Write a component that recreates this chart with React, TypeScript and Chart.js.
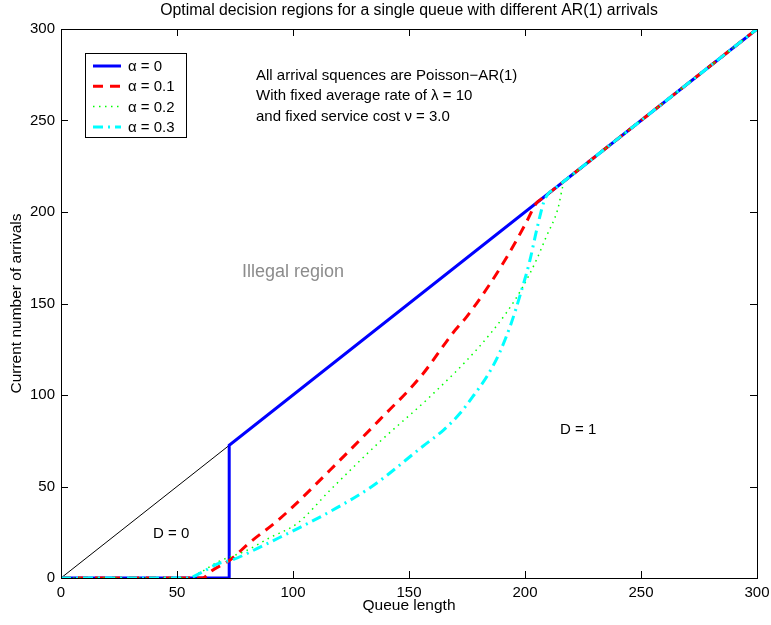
import React, { useEffect, useRef } from "react";
import { Chart, registerables } from "chart.js";

Chart.register(...registerables);

// ---- Data ----
const tickValues = [0, 50, 100, 150, 200, 250, 300];

const diagX = [0, 300];
const diagY = [0, 300];

const alpha0X = [0, 72.5, 72.5, 300];
const alpha0Y = [0, 0, 72.5, 300];

const alpha1X = [0, 61, 65, 73, 81, 93, 100, 116, 137, 155, 169, 175, 184, 192, 200, 205, 207, 209, 300];
const alpha1Y = [0, 0, 4, 10, 19, 31, 39, 59, 86, 110, 134, 143, 159, 175, 193, 205, 207, 209, 300];

const alpha2X = [0, 55, 60, 68, 80, 90, 102, 116, 137, 159, 180, 192, 199, 205, 209, 214, 217, 219, 221, 300];
const alpha2Y = [0, 0, 3, 9, 15, 22, 30, 48, 74, 99, 126, 145, 159, 174, 186, 201, 217, 219, 221, 300];

const alpha3X = [0, 55, 59, 68, 74, 86, 94, 102, 117, 134, 156, 165, 172, 178, 184, 189, 194, 198, 202, 205, 208, 210, 212, 214, 300];
const alpha3Y = [0, 0, 2, 8, 10, 17, 22, 27, 37, 50, 72, 81, 90, 100, 111, 123, 139, 155, 173, 190, 205, 210, 212, 214, 300];

const legendLabels = ["\u03b1 = 0", "\u03b1 = 0.1", "\u03b1 = 0.2", "\u03b1 = 0.3"];
const noteLines = [
  "All arrival squences are Poisson\u2212AR(1)",
  "With fixed average rate of \u03bb = 10",
  "and fixed service cost \u03bd = 3.0",
];
const titleText = "Optimal decision regions for a single queue with different AR(1) arrivals";
const xTitle = "Queue length";
const yTitle = "Current number of arrivals";

const FONT = '"Liberation Sans", Arial, Helvetica, sans-serif';

const zip = (xs: number[], ys: number[]) => xs.map((x, i) => ({ x, y: ys[i] }));

const styles = [
  { color: "#0000ff", width: 3, dash: [] as number[] },
  { color: "#ff0000", width: 3, dash: [10, 7] },
  { color: "#00ff00", width: 1.5, dash: [1.5, 4.5] },
  { color: "#00ffff", width: 3, dash: [10, 5, 2, 5] },
];

const overlay = {
  id: "overlay",
  afterDraw(chart: any) {
    const { ctx, chartArea: a, scales } = chart;
    const xs = scales.x;
    const ys = scales.y;
    ctx.save();
    ctx.strokeStyle = "#000";
    ctx.lineWidth = 1;
    ctx.setLineDash([]);
    ctx.strokeRect(a.left + 0.5, a.top + 0.5, a.right - a.left, a.bottom - a.top);
    const tl = 7;
    ctx.beginPath();
    for (const v of tickValues) {
      const px = Math.round(xs.getPixelForValue(v)) + 0.5;
      ctx.moveTo(px, a.bottom);
      ctx.lineTo(px, a.bottom - tl);
      ctx.moveTo(px, a.top);
      ctx.lineTo(px, a.top + tl);
      const py = Math.round(ys.getPixelForValue(v)) + 0.5;
      ctx.moveTo(a.left, py);
      ctx.lineTo(a.left + tl, py);
      ctx.moveTo(a.right, py);
      ctx.lineTo(a.right - tl, py);
    }
    ctx.stroke();

    // titles
    ctx.fillStyle = "#000";
    ctx.textAlign = "center";
    ctx.textBaseline = "middle";
    const cx = (a.left + a.right) / 2;
    ctx.font = `15.8px ${FONT}`;
    ctx.fillText(titleText, cx, 11);
    ctx.font = `15.5px ${FONT}`;
    ctx.fillText(xTitle, cx, 606);
    ctx.save();
    ctx.translate(17, (a.top + a.bottom) / 2);
    ctx.rotate(-Math.PI / 2);
    ctx.fillText(yTitle, 0, 0);
    ctx.restore();

    // annotations
    ctx.font = `15px ${FONT}`;
    ctx.textAlign = "left";
    noteLines.forEach((t, i) => ctx.fillText(t, 256, 76 + i * 20.3));
    ctx.fillText("D = 1", 560, 430);
    ctx.fillText("D = 0", 153, 534);
    ctx.fillStyle = "#8c8c8c";
    ctx.font = `18px ${FONT}`;
    ctx.fillText("Illegal region", 242, 272);

    // legend
    ctx.fillStyle = "#fff";
    ctx.fillRect(85, 53, 102, 85);
    ctx.strokeStyle = "#000";
    ctx.lineWidth = 1;
    ctx.strokeRect(85.5, 53.5, 101, 84);
    ctx.font = `15px ${FONT}`;
    styles.forEach((s, i) => {
      const yy = 66 + i * 20.3;
      ctx.strokeStyle = s.color;
      ctx.lineWidth = s.width;
      ctx.setLineDash(s.dash);
      ctx.beginPath();
      ctx.moveTo(93, yy);
      ctx.lineTo(121, yy);
      ctx.stroke();
      ctx.setLineDash([]);
      ctx.fillStyle = "#000";
      ctx.fillText(legendLabels[i], 128, yy + 1);
    });
    ctx.restore();
  },
};

export default function App() {
  const ref = useRef<HTMLCanvasElement | null>(null);
  useEffect(() => {
    if (!ref.current) return;
    const series = [
      { xs: alpha0X, ys: alpha0Y },
      { xs: alpha1X, ys: alpha1Y },
      { xs: alpha2X, ys: alpha2Y },
      { xs: alpha3X, ys: alpha3Y },
    ];
    const datasets: any[] = [
      {
        label: "diag",
        data: zip(diagX, diagY),
        borderColor: "#000",
        borderWidth: 1,
        pointRadius: 0,
        showLine: true,
        order: 10,
      },
      ...series.map((s, i) => ({
        label: legendLabels[i],
        data: zip(s.xs, s.ys),
        borderColor: styles[i].color,
        borderWidth: styles[i].width,
        borderDash: styles[i].dash,
        pointRadius: 0,
        showLine: true,
        cubicInterpolationMode: i === 0 ? "default" : "monotone",
        tension: i === 0 ? 0 : 0.4,
        order: 5 - i,
      })),
    ];
    const chart = new Chart(ref.current, {
      type: "scatter",
      data: { datasets },
      options: {
        animation: false,
        responsive: false,
        devicePixelRatio: 1,
        layout: { padding: { top: 29, right: 14, left: 0, bottom: 0 } },
        plugins: { legend: { display: false }, tooltip: { enabled: false }, title: { display: false } },
        scales: {
          x: {
            type: "linear",
            min: 0,
            max: 300,
            grid: { display: false, drawTicks: false },
            border: { display: false },
            ticks: { stepSize: 50, color: "#000", padding: 6, font: { family: FONT, size: 15 }, maxRotation: 0 },
            afterFit: (s: any) => {
              s.height = 47;
              s.paddingLeft = 0;
              s.paddingRight = 0;
            },
          },
          y: {
            type: "linear",
            min: 0,
            max: 300,
            grid: { display: false, drawTicks: false },
            border: { display: false },
            ticks: { stepSize: 50, color: "#000", padding: 6, font: { family: FONT, size: 15 } },
            afterFit: (s: any) => {
              s.width = 61;
              s.paddingTop = 0;
              s.paddingBottom = 0;
            },
          },
        },
      } as any,
      plugins: [overlay],
    });
    return () => chart.destroy();
  }, []);
  return (
    <div style={{ position: "fixed", left: 0, top: 0, width: 771, height: 625, background: "#fff" }}>
      <canvas ref={ref} width={771} height={625} style={{ width: 771, height: 625 }} />
    </div>
  );
}
